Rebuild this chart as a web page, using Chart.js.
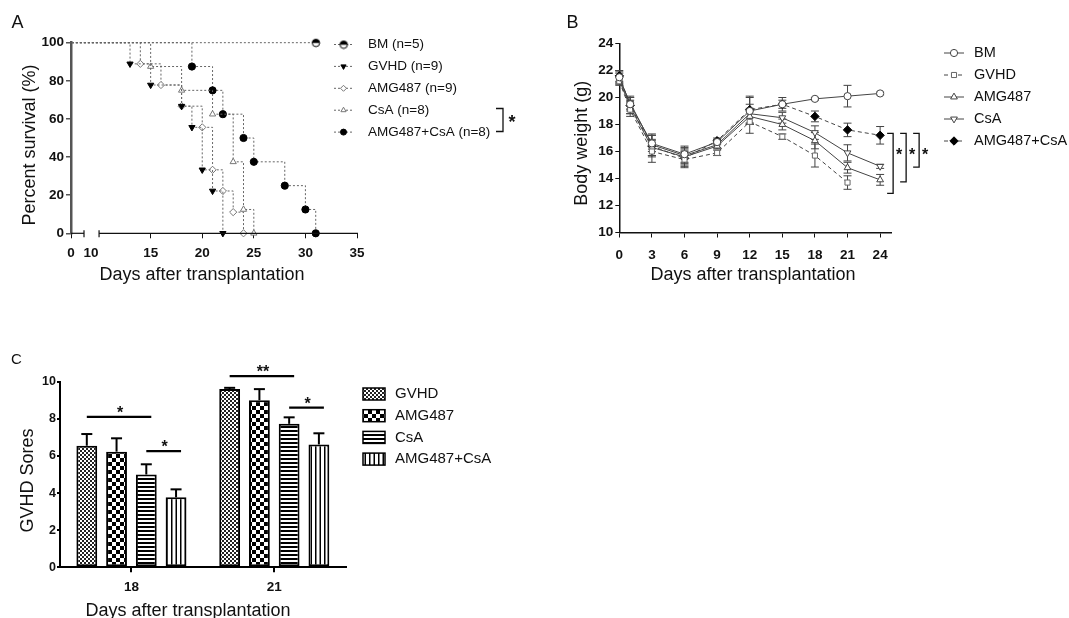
<!DOCTYPE html>
<html>
<head>
<meta charset="utf-8">
<script src="https://cdn.jsdelivr.net/npm/chart.js@4.4.0/dist/chart.umd.min.js"></script>
<style>
  body { margin: 0; background: #fff; width: 1069px; height: 618px; position: relative; overflow: hidden; }
  canvas { position: absolute; }
</style>
</head>
<body>
<canvas id="chartA" width="560" height="300" style="left:0;top:0;width:560px;height:300px"></canvas>
<canvas id="chartB" width="509" height="300" style="left:560px;top:0;width:509px;height:300px"></canvas>
<canvas id="chartC" width="560" height="288" style="left:0;top:330px;width:560px;height:288px"></canvas>
<script>
const FAM = '"Liberation Sans", Arial, Helvetica, sans-serif';

// ---------- panel A: survival ----------
const survNames = ['BM (n=5)', 'GVHD (n=9)', 'AMG487 (n=9)', 'CsA (n=8)', 'AMG487+CsA (n=8)'];
const bmDays = [0, 31];
const bmSurv = [100, 100];
const gvhdDays = [0, 13, 15, 18, 19, 20, 21, 22];
const gvhdSurv = [100, 88.9, 77.8, 66.7, 55.6, 33.3, 22.2, 0];
const amgDays = [0, 14, 16, 18, 20, 21, 22, 23, 24];
const amgSurv = [100, 88.9, 77.8, 66.7, 55.6, 33.3, 22.2, 11.1, 0];
const csaDays = [0, 15, 18, 21, 23, 24, 25];
const csaSurv = [100, 87.5, 75, 62.5, 37.5, 12.5, 0];
const comboDays = [0, 19, 21, 22, 24, 25, 28, 30, 31];
const comboSurv = [100, 87.5, 75, 62.5, 50, 37.5, 25, 12.5, 0];
const survTicksX = [15, 20, 25, 30, 35];
const survTicksY = [0, 20, 40, 60, 80, 100];

// ---------- panel B: body weight ----------
const bwNames = ['BM', 'GVHD', 'AMG487', 'CsA', 'AMG487+CsA'];
const bwDays = [0, 1, 3, 6, 9, 12, 15, 18, 21, 24];
const bwTicks = [0, 3, 6, 9, 12, 15, 18, 21, 24];
const bwBM = [21.5, 19.5, 16.6, 15.8, 16.7, 19.0, 19.5, 19.9, 20.1, 20.3];
const bwBMErr = [0.4, 0.5, 0.6, 0.6, 0.2, 1.0, 0.5, 0.1, 0.8, 0.1];
const bwGVHD = [21.2, 19.1, 16.0, 15.4, 15.9, 18.2, 17.1, 15.7, 13.7];
const bwGVHDErr = [0.3, 0.5, 0.8, 0.6, 0.2, 0.85, 0.2, 0.85, 0.5];
const bwAMG = [21.3, 19.3, 16.3, 15.6, 16.4, 18.6, 18.0, 16.8, 14.8, 13.9];
const bwAMGErr = [0.3, 0.5, 0.6, 0.6, 0.2, 0.6, 0.4, 0.6, 0.4, 0.4];
const bwCsA = [21.4, 19.6, 16.5, 15.7, 16.5, 18.8, 18.5, 17.4, 15.9, 14.9];
const bwCsAErr = [0.4, 0.5, 0.8, 0.6, 0.2, 0.7, 0.4, 0.5, 0.6, 0.15];
const bwCombo = [21.6, 19.4, 16.4, 15.5, 16.8, 19.1, 19.5, 18.6, 17.6, 17.2];
const bwComboErr = [0.4, 0.6, 0.8, 0.6, 0.2, 1.0, 0.3, 0.4, 0.5, 0.65];
const bwSigTop = 17.35;
const bwSigBottom = [12.9, 13.75, 14.85];

// ---------- panel C: GVHD scores ----------
const scoreDays = ['18', '21'];
const scoreNames = ['GVHD', 'AMG487', 'CsA', 'AMG487+CsA'];
const scoreGVHD = [6.55, 9.6];
const scoreGVHDErr = [0.63, 0.07];
const scoreAMG = [6.23, 9.0];
const scoreAMGErr = [0.72, 0.6];
const scoreCsA = [5.0, 7.73];
const scoreCsAErr = [0.55, 0.35];
const scoreCombo = [3.77, 6.62];
const scoreComboErr = [0.43, 0.6];
const scoreSig = [
  { cat: 0, from: 0, to: 2, y: 8.1, text: '*' },
  { cat: 0, from: 2, to: 3, y: 6.26, text: '*' },
  { cat: 1, from: 0, to: 2, y: 10.3, text: '**' },
  { cat: 1, from: 2, to: 3, y: 8.6, text: '*' }
];

// ---------- helpers ----------
function txt(ctx, s, x, y, size, opts = {}) {
  ctx.save();
  ctx.translate(x, y);
  if (opts.rot) ctx.rotate(opts.rot);
  ctx.font = (opts.bold ? 'bold ' : '') + size + 'px ' + FAM;
  ctx.textAlign = opts.align || 'left';
  ctx.textBaseline = opts.base || 'alphabetic';
  ctx.fillStyle = '#111';
  ctx.fillText(s, 0, 0);
  ctx.restore();
}
function seg(ctx, x1, y1, x2, y2) {
  ctx.beginPath(); ctx.moveTo(x1, y1); ctx.lineTo(x2, y2); ctx.stroke();
}
function halfCircle(r) {
  const c = document.createElement('canvas');
  c.width = c.height = 2 * r + 2;
  const g = c.getContext('2d');
  g.beginPath(); g.arc(r + 1, r + 1, r - 0.5, 0, 2 * Math.PI); g.fillStyle = '#fff'; g.fill();
  g.beginPath(); g.arc(r + 1, r + 1, r - 0.5, Math.PI, 2 * Math.PI); g.closePath(); g.fillStyle = '#000'; g.fill();
  g.beginPath(); g.arc(r + 1, r + 1, r - 0.5, 0, 2 * Math.PI); g.lineWidth = 1; g.strokeStyle = '#000'; g.stroke();
  return c;
}
function makePattern(kind) {
  const c = document.createElement('canvas');
  const g = c.getContext('2d');
  if (kind === 'fine') {
    c.width = c.height = 4;
    g.fillStyle = '#fff'; g.fillRect(0, 0, 4, 4);
    g.fillStyle = '#222'; g.fillRect(0, 0, 2, 2); g.fillRect(2, 2, 2, 2);
  } else if (kind === 'checker') {
    c.width = c.height = 8;
    g.fillStyle = '#fff'; g.fillRect(0, 0, 8, 8);
    g.fillStyle = '#000'; g.fillRect(0, 0, 4, 4); g.fillRect(4, 4, 4, 4);
  } else if (kind === 'hstripe') {
    c.width = 4; c.height = 4;
    g.fillStyle = '#fff'; g.fillRect(0, 0, 4, 4);
    g.fillStyle = '#000'; g.fillRect(0, 0, 4, 2);
  } else {
    c.width = 9; c.height = 4;
    g.fillStyle = '#fff'; g.fillRect(0, 0, 9, 4);
    g.fillStyle = '#000'; g.fillRect(0, 0, 1.5, 4); g.fillRect(4.5, 0, 1.5, 4);
  }
  return g.createPattern(c, 'repeat');
}

const tickFont = size => ({ family: FAM, size: size, weight: 'bold' });
const baseOpts = { responsive: false, animation: false, events: [] };

// ================= Chart A =================
const bmMarker = halfCircle(4.2);
const survStyles = [
  { style: bmMarker, fill: '#000', stroke: '#000', r: 4.2, rot: 0 },
  { style: 'triangle', fill: '#000', stroke: '#000', r: 3.6, rot: 180 },
  { style: 'rectRot', fill: '#fff', stroke: '#777', r: 3.6, rot: 0 },
  { style: 'triangle', fill: '#fff', stroke: '#777', r: 3.6, rot: 0 },
  { style: 'circle', fill: '#000', stroke: '#000', r: 3.6, rot: 0 }
];
const survSeries = [[bmDays, bmSurv], [gvhdDays, gvhdSurv], [amgDays, amgSurv], [csaDays, csaSurv], [comboDays, comboSurv]];

const survAxisBreak = {
  id: 'survAxisBreak',
  afterDraw(chart) {
    const { ctx, chartArea } = chart;
    const xs = chart.scales.x;
    const y0 = chartArea.bottom, left = chartArea.left;
    const p10 = xs.getPixelForValue(10);
    ctx.save();
    ctx.strokeStyle = '#111'; ctx.lineWidth = 1.2;
    seg(ctx, left, y0, left + 13, y0);
    seg(ctx, p10, y0, xs.right + 1, y0);
    seg(ctx, left + 13, y0 - 3, left + 13, y0 + 4);
    seg(ctx, p10, y0 - 3, p10, y0 + 4);
    txt(ctx, '10', p10 - 8, y0 + 5 + 7 + 8.1, 13.5, { bold: true, align: 'center', base: 'middle' });
    // letter + titles
    txt(ctx, 'A', 11.5, 28, 18);
    txt(ctx, 'Days after transplantation', 202, 279.5, 18, { align: 'center' });
    txt(ctx, 'Percent survival (%)', 34.5, 145, 18, { align: 'center', rot: -Math.PI / 2 });
    // legend
    survNames.forEach((n, i) => {
      const y = 44.5 + 21.9 * i;
      ctx.strokeStyle = '#666'; ctx.setLineDash([2, 2]); ctx.lineWidth = 1;
      seg(ctx, 334, y, 353, y);
      ctx.setLineDash([]);
      const s = survStyles[i];
      ctx.fillStyle = s.fill; ctx.strokeStyle = s.stroke; ctx.lineWidth = 1;
      Chart.helpers.drawPoint(ctx, { pointStyle: s.style, radius: s.r - 0.6, rotation: s.rot, borderWidth: 1 }, 343.5, y);
      txt(ctx, n, 368, y, 13.5, { base: 'middle' });
    });
    ctx.strokeStyle = '#111'; ctx.lineWidth = 1.3;
    ctx.beginPath(); ctx.moveTo(496, 108.5); ctx.lineTo(503, 108.5); ctx.lineTo(503, 131.5); ctx.lineTo(496, 131.5); ctx.stroke();
    txt(ctx, '*', 512, 128, 18, { bold: true, align: 'center' });
    ctx.restore();
  }
};

new Chart(document.getElementById('chartA'), {
  type: 'line',
  data: {
    datasets: survSeries.map((s, i) => ({
      label: survNames[i],
      data: s[0].map((d, j) => ({ x: d, y: s[1][j] })),
      stepped: true,
      borderColor: '#666', borderWidth: 1, borderDash: [2, 2],
      pointStyle: survStyles[i].style,
      pointRadius: ctx => ctx.dataIndex === 0 ? 0 : survStyles[i].r,
      pointBackgroundColor: survStyles[i].fill,
      pointBorderColor: survStyles[i].stroke,
      pointBorderWidth: 1,
      pointRotation: survStyles[i].rot,
      clip: { left: 0, top: 8, right: 8, bottom: 8 }
    }))
  },
  options: {
    ...baseOpts,
    layout: { padding: { left: 0, top: 42.7, right: 203, bottom: 0 } },
    plugins: { legend: { display: false }, tooltip: { enabled: false } },
    scales: {
      x: {
        type: 'linear', min: 7.28, max: 35,
        afterBuildTicks: s => { s.ticks = [7.28].concat(survTicksX).map(v => ({ value: v })); },
        afterFit: s => { s.height = 300 - 233.3; },
        grid: { drawOnChartArea: false, tickLength: 5, color: '#111' },
        border: { display: false },
        ticks: { font: tickFont(13.5), color: '#111', padding: 7, maxRotation: 0, autoSkip: false,
                 callback: v => v < 10 ? '0' : String(v) }
      },
      y: {
        min: 0, max: 100,
        afterBuildTicks: s => { s.ticks = survTicksY.map(v => ({ value: v })); },
        afterFit: s => { s.width = 71; },
        grid: { drawOnChartArea: false, tickLength: 5, color: '#555', lineWidth: 1.5 },
        border: { display: true, color: '#555', width: 2.5 },
        ticks: { font: tickFont(13.5), color: '#111', padding: 2 }
      }
    }
  },
  plugins: [survAxisBreak]
});

// ================= Chart B =================
const bwSeries = [[bwBM, bwBMErr], [bwGVHD, bwGVHDErr], [bwAMG, bwAMGErr], [bwCsA, bwCsAErr], [bwCombo, bwComboErr]];
const bwStyles = [
  { style: 'circle', fill: '#fff', stroke: '#444', r: 3.6, rot: 0, dash: [] },
  { style: 'rect', fill: '#fff', stroke: '#666', r: 3.6, rot: 0, dash: [4, 3] },
  { style: 'triangle', fill: '#fff', stroke: '#444', r: 3.9, rot: 0, dash: [] },
  { style: 'triangle', fill: '#fff', stroke: '#444', r: 3.9, rot: 180, dash: [] },
  { style: 'rectRot', fill: '#000', stroke: '#000', r: 4.2, rot: 0, dash: [4, 3] }
];

const bwExtras = {
  id: 'bwExtras',
  beforeDatasetsDraw(chart) {
    const { ctx } = chart;
    const ys = chart.scales.y;
    ctx.save();
    ctx.strokeStyle = '#444'; ctx.lineWidth = 1;
    chart.data.datasets.forEach((ds, di) => {
      chart.getDatasetMeta(di).data.forEach((pt, i) => {
        const v = ds.data[i].y, e = ds.errors[i];
        if (v == null || !e) return;
        const yt = ys.getPixelForValue(v + e), yb = ys.getPixelForValue(v - e);
        seg(ctx, pt.x, yt, pt.x, yb);
        seg(ctx, pt.x - 4, yt, pt.x + 4, yt);
        seg(ctx, pt.x - 4, yb, pt.x + 4, yb);
      });
    });
    ctx.restore();
  },
  afterDraw(chart) {
    const { ctx } = chart;
    const xs = chart.scales.x, ys = chart.scales.y;
    ctx.save();
    txt(ctx, 'B', 6.6, 28, 18);
    txt(ctx, 'Days after transplantation', 193, 279.5, 18, { align: 'center' });
    txt(ctx, 'Body weight (g)', 26.5, 143.3, 18, { align: 'center', rot: -Math.PI / 2 });
    // significance brackets
    const x24 = xs.getPixelForValue(24);
    const yTop = ys.getPixelForValue(bwSigTop);
    ctx.strokeStyle = '#111'; ctx.lineWidth = 1.3;
    bwSigBottom.forEach((b, i) => {
      const xl = x24 + 7 + 13 * i, xr = xl + 6;
      const yb = ys.getPixelForValue(b);
      ctx.beginPath(); ctx.moveTo(xl, yTop); ctx.lineTo(xr, yTop); ctx.lineTo(xr, yb); ctx.lineTo(xl, yb); ctx.stroke();
      txt(ctx, '*', xr + 6, ys.getPixelForValue(15.96) + 8, 16, { bold: true, align: 'center' });
    });
    // legend
    bwNames.forEach((n, i) => {
      const y = 53 + 22 * i;
      const s = bwStyles[i];
      ctx.strokeStyle = '#444'; ctx.lineWidth = 1; ctx.setLineDash(s.dash);
      seg(ctx, 384, y, 404, y);
      ctx.setLineDash([]);
      ctx.fillStyle = s.fill; ctx.strokeStyle = s.stroke;
      Chart.helpers.drawPoint(ctx, { pointStyle: s.style, radius: s.r, rotation: s.rot, borderWidth: 1 }, 394, y);
      txt(ctx, n, 414, y, 14.5, { base: 'middle' });
    });
    ctx.restore();
  }
};

new Chart(document.getElementById('chartB'), {
  type: 'line',
  data: {
    datasets: bwSeries.map((s, i) => ({
      label: bwNames[i],
      data: s[0].map((v, j) => ({ x: bwDays[j], y: v })),
      errors: s[1],
      borderColor: '#444', borderWidth: 1, borderDash: bwStyles[i].dash,
      pointStyle: bwStyles[i].style,
      pointRadius: bwStyles[i].r,
      pointBackgroundColor: bwStyles[i].fill,
      pointBorderColor: bwStyles[i].stroke,
      pointBorderWidth: 1,
      pointRotation: bwStyles[i].rot,
      tension: 0,
      clip: false
    }))
  },
  options: {
    ...baseOpts,
    layout: { padding: { left: 0, top: 43.5, right: 178, bottom: 0 } },
    plugins: { legend: { display: false }, tooltip: { enabled: false } },
    scales: {
      x: {
        type: 'linear', min: 0, max: 25,
        afterBuildTicks: s => { s.ticks = bwTicks.map(v => ({ value: v })); },
        afterFit: s => { s.height = 300 - 232.5; },
        grid: { drawOnChartArea: false, tickLength: 5, color: '#111' },
        border: { display: true, color: '#111', width: 1.5 },
        ticks: { font: tickFont(13.5), color: '#111', padding: 9.4, maxRotation: 0, autoSkip: false }
      },
      y: {
        min: 10, max: 24,
        ticks: { stepSize: 2, font: tickFont(13.5), color: '#111', padding: 2 },
        afterFit: s => { s.width = 59.3; },
        grid: { drawOnChartArea: false, tickLength: 4, color: '#111' },
        border: { display: true, color: '#111', width: 1.5 }
      }
    }
  },
  plugins: [bwExtras]
});

// ================= Chart C =================
const scoreSeries = [[scoreGVHD, scoreGVHDErr], [scoreAMG, scoreAMGErr], [scoreCsA, scoreCsAErr], [scoreCombo, scoreComboErr]];
const scorePatterns = ['fine', 'checker', 'hstripe', 'vstripe'].map(makePattern);

const scoreExtras = {
  id: 'scoreExtras',
  afterDatasetsDraw(chart) {
    const { ctx } = chart;
    const ys = chart.scales.y;
    ctx.save();
    ctx.strokeStyle = '#000'; ctx.lineWidth = 2;
    chart.data.datasets.forEach((ds, di) => {
      chart.getDatasetMeta(di).data.forEach((bar, i) => {
        const yt = ys.getPixelForValue(ds.data[i] + ds.errors[i]);
        seg(ctx, bar.x, bar.y, bar.x, yt);
        seg(ctx, bar.x - 5.5, yt, bar.x + 5.5, yt);
      });
    });
    scoreSig.forEach(s => {
      const x1 = chart.getDatasetMeta(s.from).data[s.cat].x;
      const x2 = chart.getDatasetMeta(s.to).data[s.cat].x + 5;
      const y = ys.getPixelForValue(s.y);
      ctx.lineWidth = 2.2;
      seg(ctx, x1, y, x2, y);
      txt(ctx, s.text, (x1 + x2) / 2 + 1, y + 1, 16, { bold: true, align: 'center' });
    });
    ctx.restore();
  },
  afterDraw(chart) {
    const { ctx } = chart;
    ctx.save();
    txt(ctx, 'C', 11, 33.7, 15);
    txt(ctx, 'Days after transplantation', 188, 285.6, 18, { align: 'center' });
    txt(ctx, 'GVHD Sores', 33, 150.5, 18, { align: 'center', rot: -Math.PI / 2 });
    scoreNames.forEach((n, i) => {
      const y = 64 + 21.7 * i;
      ctx.fillStyle = scorePatterns[i];
      ctx.fillRect(363, y - 6, 22, 12);
      ctx.strokeStyle = '#000'; ctx.lineWidth = 1.5;
      ctx.strokeRect(363, y - 6, 22, 12);
      txt(ctx, n, 395, y, 15, { base: 'middle' });
    });
    ctx.restore();
  }
};

new Chart(document.getElementById('chartC'), {
  type: 'bar',
  data: {
    labels: scoreDays,
    datasets: scoreSeries.map((s, i) => ({
      label: scoreNames[i],
      data: s[0],
      errors: s[1],
      backgroundColor: scorePatterns[i],
      borderColor: '#000', borderWidth: 2, borderSkipped: false,
      categoryPercentage: 0.833, barPercentage: 0.70
    }))
  },
  options: {
    ...baseOpts,
    layout: { padding: { left: 0, top: 51.7, right: 214.3, bottom: 0 } },
    plugins: { legend: { display: false }, tooltip: { enabled: false } },
    scales: {
      x: {
        afterFit: s => { s.height = 288 - 237.3; },
        grid: { drawOnChartArea: false, offset: false, tickLength: 5, color: '#000', lineWidth: 2 },
        border: { display: true, color: '#000', width: 2 },
        ticks: { font: tickFont(13.5), color: '#111', padding: 6.6 }
      },
      y: {
        min: 0, max: 10,
        ticks: { stepSize: 2, font: tickFont(12.5), color: '#111', padding: 1 },
        afterFit: s => { s.width = 60; },
        grid: { drawOnChartArea: false, tickLength: 3, color: '#000', lineWidth: 2 },
        border: { display: true, color: '#000', width: 2 }
      }
    }
  },
  plugins: [scoreExtras]
});
</script>
</body>
</html>
